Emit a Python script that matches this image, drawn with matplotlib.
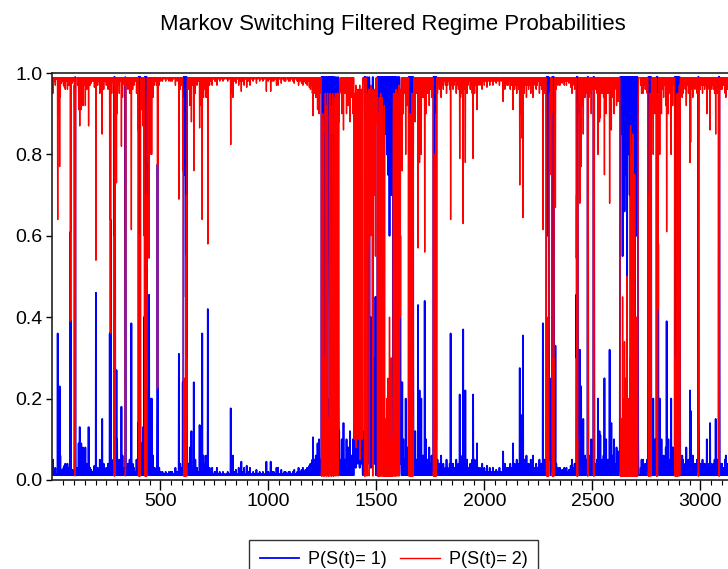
import numpy as np
import matplotlib.pyplot as plt

plt.rcParams['font.family'] = ['Liberation Sans', 'DejaVu Sans']

# filtered P(S(t)=1); P(S(t)=2) is its complement
n_obs = 3128
calm_p1 = 0.012

# single observations where P(S(t)=1) leaves the calm level
spikes = [
    (3, 0.05), (8, 0.02), (14, 0.03), (19, 0.015), (25, 0.36), (27, 0.1), (30, 0.02), (34, 0.23),
    (37, 0.06), (42, 0.025), (47, 0.02), (52, 0.03), (56, 0.035), (60, 0.04), (65, 0.02), (70, 0.04),
    (73, 0.03), (78, 0.03), (84, 0.61), (86, 0.39), (93, 0.025), (98, 0.02),
    (117, 0.03), (122, 0.09), (127, 0.13), (131, 0.05), (134, 0.09), (138, 0.04), (142, 0.08),
    (145, 0.025), (147, 0.03), (153, 0.08), (157, 0.02), (160, 0.04), (164, 0.03), (168, 0.13),
    (175, 0.03), (180, 0.025), (185, 0.02), (190, 0.02), (195, 0.035), (202, 0.46), (205, 0.03),
    (210, 0.03), (215, 0.02), (220, 0.05), (226, 0.03), (231, 0.15), (234, 0.03), (238, 0.04),
    (244, 0.02), (250, 0.03), (254, 0.025), (258, 0.04), (262, 0.03), (266, 0.36), (270, 0.64),
    (275, 0.05), (280, 0.02), (284, 0.03),
    (297, 0.27), (300, 0.1), (305, 0.03), (310, 0.05), (315, 0.02), (320, 0.18), (325, 0.06),
    (330, 0.025), (334, 0.03), (346, 0.03), (350, 0.04), (354, 0.02), (358, 0.05), (362, 0.03),
    (366, 0.385), (372, 0.04), (378, 0.03), (384, 0.02), (390, 0.05), (394, 0.03), (397, 0.14),
    (414, 0.09), (417, 0.03), (420, 0.13), (425, 0.4),
    (443, 0.22), (448, 0.455), (452, 0.2), (456, 0.05), (460, 0.2), (463, 0.03), (466, 0.06),
    (472, 0.03), (477, 0.02), (482, 0.03), (487, 0.775), (489, 0.225), (495, 0.03), (502, 0.02),
    (510, 0.02), (517, 0.015), (525, 0.02), (533, 0.015), (540, 0.02), (548, 0.02), (555, 0.02),
    (562, 0.015), (570, 0.03), (578, 0.02), (586, 0.31), (592, 0.04), (597, 0.03),
    (630, 0.04), (634, 0.02), (637, 0.08), (641, 0.03), (644, 0.12), (650, 0.03), (655, 0.24),
    (658, 0.03), (662, 0.05), (666, 0.02), (670, 0.03), (676, 0.02), (682, 0.135), (686, 0.04),
    (690, 0.08), (694, 0.36), (697, 0.03), (700, 0.06), (703, 0.02), (706, 0.04), (712, 0.06),
    (716, 0.03), (720, 0.42), (724, 0.02), (728, 0.03), (734, 0.02), (740, 0.03), (746, 0.015),
    (752, 0.02), (757, 0.02), (762, 0.03), (768, 0.015),
    (775, 0.02), (782, 0.015), (790, 0.02), (797, 0.015), (805, 0.015), (812, 0.02), (819, 0.015),
    (826, 0.176), (829, 0.05), (832, 0.02), (836, 0.06), (843, 0.02), (850, 0.025), (856, 0.015),
    (863, 0.03), (869, 0.02), (875, 0.045), (881, 0.02), (888, 0.03), (894, 0.015), (900, 0.035),
    (907, 0.02), (915, 0.03), (922, 0.015), (930, 0.02), (937, 0.015), (945, 0.025), (952, 0.015),
    (960, 0.02), (968, 0.015), (975, 0.02), (983, 0.015), (991, 0.045), (1000, 0.02), (1006, 0.015),
    (1011, 0.045), (1018, 0.02), (1025, 0.02), (1032, 0.015), (1038, 0.03), (1045, 0.03),
    (1052, 0.015), (1060, 0.025), (1067, 0.015), (1074, 0.02), (1080, 0.02), (1088, 0.015),
    (1094, 0.02), (1100, 0.02), (1107, 0.015), (1114, 0.02), (1120, 0.025), (1127, 0.015),
    (1134, 0.02), (1140, 0.03), (1147, 0.02), (1154, 0.025), (1160, 0.03), (1166, 0.02), (1172, 0.025),
    (1180, 0.03), (1186, 0.02), (1190, 0.035), (1195, 0.04), (1200, 0.03), (1204, 0.05), (1207, 0.105),
    (1210, 0.03), (1212, 0.05), (1216, 0.03), (1220, 0.06), (1224, 0.04), (1228, 0.09), (1231, 0.03),
    (1235, 0.1), (1238, 0.04), (1240, 0.05), (1243, 0.03),
    (1338, 0.05), (1340, 0.1), (1344, 0.03), (1348, 0.14), (1351, 0.04), (1355, 0.05), (1358, 0.03),
    (1362, 0.1), (1366, 0.04), (1370, 0.08), (1374, 0.03), (1378, 0.12), (1382, 0.04), (1385, 0.06),
    (1389, 0.03), (1392, 0.1), (1500, 0.05), (1502, 0.12),
    (1620, 0.24), (1623, 0.05), (1625, 0.1), (1628, 0.03), (1630, 0.05), (1633, 0.04), (1636, 0.2),
    (1639, 0.03), (1642, 0.08), (1645, 0.04), (1648, 0.06),
    (1676, 0.04), (1680, 0.12), (1683, 0.03), (1686, 0.05), (1690, 0.04), (1693, 0.43), (1697, 0.05),
    (1700, 0.22), (1703, 0.03), (1706, 0.05), (1708, 0.2), (1712, 0.06), (1715, 0.03), (1718, 0.06),
    (1721, 0.04), (1724, 0.44), (1727, 0.03), (1730, 0.1), (1734, 0.04), (1738, 0.05), (1741, 0.03),
    (1745, 0.08), (1748, 0.03), (1752, 0.04), (1756, 0.06), (1760, 0.03),
    (1783, 0.05), (1787, 0.03), (1792, 0.04), (1796, 0.02), (1800, 0.06), (1805, 0.03), (1810, 0.04),
    (1815, 0.02), (1820, 0.03), (1825, 0.05), (1830, 0.03), (1835, 0.02), (1840, 0.04), (1844, 0.36),
    (1848, 0.03), (1852, 0.02), (1855, 0.04), (1860, 0.03), (1865, 0.02), (1870, 0.05), (1875, 0.03),
    (1880, 0.04), (1886, 0.21), (1890, 0.06), (1895, 0.03), (1898, 0.05), (1902, 0.37), (1906, 0.04),
    (1912, 0.22), (1916, 0.03), (1920, 0.05), (1925, 0.03), (1930, 0.02), (1935, 0.04), (1940, 0.03),
    (1944, 0.05), (1948, 0.21), (1952, 0.03), (1955, 0.05), (1960, 0.03), (1966, 0.09), (1970, 0.02),
    (1975, 0.03), (1980, 0.02), (1985, 0.03), (1990, 0.04), (1995, 0.02), (2000, 0.03), (2006, 0.02),
    (2012, 0.035), (2018, 0.02), (2025, 0.03), (2032, 0.02), (2040, 0.03), (2047, 0.02), (2055, 0.025),
    (2062, 0.02), (2070, 0.03), (2078, 0.02), (2087, 0.07), (2091, 0.03), (2095, 0.04), (2100, 0.02),
    (2105, 0.03), (2110, 0.03), (2115, 0.02), (2120, 0.04), (2126, 0.03), (2133, 0.09), (2137, 0.03),
    (2140, 0.04), (2145, 0.03), (2150, 0.05), (2155, 0.03), (2160, 0.04), (2164, 0.275), (2167, 0.04),
    (2170, 0.1), (2175, 0.16), (2179, 0.355), (2182, 0.04), (2185, 0.05), (2190, 0.03), (2195, 0.06),
    (2200, 0.03), (2205, 0.04), (2210, 0.03), (2215, 0.05), (2220, 0.03), (2225, 0.06), (2230, 0.03),
    (2235, 0.02), (2240, 0.04), (2245, 0.03), (2250, 0.02), (2255, 0.05), (2260, 0.03), (2265, 0.04),
    (2271, 0.385), (2274, 0.04), (2278, 0.05), (2282, 0.03), (2309, 0.04), (2312, 0.1),
    (2329, 0.33), (2333, 0.04), (2337, 0.03), (2342, 0.02), (2346, 0.03), (2350, 0.03), (2355, 0.02),
    (2360, 0.025), (2365, 0.02), (2370, 0.03), (2375, 0.02), (2380, 0.03), (2386, 0.02), (2392, 0.025),
    (2397, 0.02), (2400, 0.035), (2403, 0.02), (2406, 0.05), (2410, 0.03), (2414, 0.02), (2418, 0.04),
    (2422, 0.03), (2438, 0.05), (2442, 0.32), (2445, 0.04), (2448, 0.23), (2452, 0.08), (2455, 0.03),
    (2458, 0.15), (2462, 0.04), (2466, 0.06), (2470, 0.03), (2473, 0.05),
    (2484, 0.06), (2488, 0.03), (2492, 0.05), (2495, 0.1), (2499, 0.04), (2502, 0.03),
    (2514, 0.04), (2518, 0.03), (2522, 0.05), (2526, 0.2), (2530, 0.04), (2533, 0.12), (2537, 0.11),
    (2541, 0.03), (2545, 0.05), (2549, 0.03), (2552, 0.06), (2556, 0.25), (2560, 0.04), (2564, 0.1),
    (2568, 0.03), (2572, 0.05), (2576, 0.03), (2580, 0.32), (2584, 0.04), (2588, 0.14), (2592, 0.03),
    (2596, 0.06), (2600, 0.1), (2604, 0.04), (2608, 0.03), (2612, 0.08), (2616, 0.04), (2620, 0.07),
    (2624, 0.03),
    (2724, 0.03), (2728, 0.05), (2732, 0.02), (2735, 0.05), (2740, 0.03), (2745, 0.04), (2750, 0.03),
    (2754, 0.05), (2778, 0.05), (2782, 0.2), (2786, 0.04), (2790, 0.1),
    (2812, 0.2), (2816, 0.05), (2820, 0.1), (2825, 0.04), (2830, 0.06), (2835, 0.03), (2840, 0.08),
    (2844, 0.39), (2848, 0.05), (2852, 0.1), (2856, 0.03), (2860, 0.05), (2865, 0.2), (2868, 0.04),
    (2872, 0.08), (2876, 0.03),
    (2912, 0.04), (2916, 0.06), (2920, 0.05), (2925, 0.03), (2930, 0.04), (2935, 0.08), (2940, 0.03),
    (2945, 0.05), (2952, 0.22), (2955, 0.17), (2960, 0.04), (2965, 0.06), (2970, 0.03), (2975, 0.04),
    (2980, 0.03), (2985, 0.05),
    (3000, 0.04), (3005, 0.03), (3010, 0.05), (3015, 0.03), (3020, 0.04), (3025, 0.03), (3030, 0.1),
    (3035, 0.04), (3040, 0.03), (3045, 0.14), (3050, 0.04), (3055, 0.03), (3060, 0.04), (3066, 0.05),
    (3071, 0.15), (3075, 0.04), (3078, 0.05),
    (3095, 0.04), (3100, 0.04), (3105, 0.03), (3110, 0.03), (3115, 0.05), (3118, 0.06), (3122, 0.03),
    (3126, 0.04),
]

# stretches where the filter jumps into regime 1: first observation, then consecutive values
run_start = [103, 287, 338, 399, 428, 604, 1246, 1397, 1445, 1455, 1505, 1516, 1650, 1764,
             2287, 2314, 2426, 2478, 2505, 2628, 2758, 2797, 2882, 2990, 3085]
run_p1 = [
    [0.97, 0.9, 0.3, 0.99, 0.84, 0.1],
    [0.99, 0.6, 0.99, 0.98, 0.36],
    [0.99, 0.98, 0.4],
    [0.99, 0.98, 0.99, 0.9, 0.4, 0.99, 0.95, 0.99, 0.99, 0.2, 0.05],
    [0.99, 0.97, 0.99, 0.6, 0.98, 0.99, 0.8, 0.99, 0.3, 0.99, 0.1],
    [0.24, 0.06, 0.25, 0.55, 0.99, 0.98, 0.99, 0.75, 0.99, 0.99, 0.9, 0.99, 0.97, 0.99, 0.45,
     0.99, 0.98, 0.3, 0.99, 0.24, 0.08],
    [0.99, 0.98, 0.99, 0.97, 0.99, 0.15, 0.1, 0.18, 0.12,
     0.85, 0.99, 0.95, 0.99, 0.7, 0.99, 0.98, 0.9, 0.1, 0.05, 0.15, 0.08,
     0.99, 0.97, 0.99, 0.99, 0.3, 0.1, 0.2, 0.05, 0.12,
     0.99, 0.98, 0.92, 0.99, 0.99, 0.85, 0.99, 0.97, 0.6, 0.2, 0.05, 0.1, 0.4,
     0.99, 0.99, 0.96, 0.99, 0.98, 0.99, 0.2, 0.08, 0.15, 0.05, 0.1,
     0.99, 0.97, 0.99, 0.75, 0.99, 0.98, 0.3, 0.12, 0.06, 0.18, 0.1, 0.05,
     0.99, 0.99, 0.95, 0.6, 0.2, 0.1, 0.05, 0.15, 0.08, 0.12, 0.05,
     0.99, 0.98, 0.5, 0.18, 0.07, 0.12, 0.05, 0.04],
    [0.85, 0.9, 0.1, 0.05, 0.12, 0.8, 0.75, 0.08, 0.03, 0.15,
     0.92, 0.1, 0.14, 0.05, 0.78, 0.85, 0.06, 0.1, 0.04, 0.9,
     0.15, 0.07, 0.1, 0.82, 0.2, 0.06, 0.03, 0.95, 0.88, 0.12,
     0.05, 0.08, 0.72, 0.15, 0.04, 0.1, 0.9, 0.08, 0.12, 0.05],
    [0.99, 0.98, 0.99, 0.6, 0.99, 0.2, 0.05],
    [0.2, 0.05, 0.99, 0.98, 0.3, 0.1, 0.05, 0.25, 0.42, 0.08,
     0.15, 0.04, 0.99, 0.97, 0.27, 0.06, 0.1, 0.22, 0.05, 0.4,
     0.03, 0.2, 0.12, 0.05, 0.26, 0.07, 0.1, 0.04, 0.99, 0.99,
     0.25, 0.05, 0.22, 0.08, 0.04, 0.3, 0.1, 0.06, 0.24, 0.04,
     0.08, 0.45, 0.05, 0.03],
    [0.99, 0.98, 0.99, 0.3, 0.1, 0.99, 0.97, 0.99, 0.2, 0.06, 0.99],
    [0.99, 0.98, 0.99, 0.2, 0.05, 0.1, 0.99, 0.97, 0.99, 0.95,
     0.3, 0.06, 0.1, 0.99, 0.98, 0.99, 0.6, 0.99, 0.96, 0.99,
     0.2, 0.08, 0.99, 0.98, 0.99,
     0.99, 0.95, 0.99, 0.85, 0.99, 0.92, 0.97, 0.99, 0.8, 0.99,
     0.98, 0.9, 0.99, 0.75, 0.99, 0.97, 0.99, 0.88, 0.99, 0.96,
     0.6, 0.99, 0.98, 0.99, 0.85, 0.99, 0.93, 0.99, 0.7, 0.99,
     0.97, 0.99, 0.9, 0.99, 0.95, 0.99, 0.98,
     0.3, 0.1, 0.05, 0.99, 0.97, 0.99, 0.9, 0.15, 0.05, 0.99,
     0.98, 0.99, 0.3, 0.08, 0.04, 0.1, 0.99, 0.97, 0.95, 0.25,
     0.1, 0.05, 0.99, 0.99, 0.4, 0.12, 0.06, 0.03, 0.99, 0.98,
     0.2, 0.05, 0.04, 0.6, 0.15, 0.1, 0.24, 0.05],
    [0.99, 0.98, 0.49, 0.99, 0.99, 0.3, 0.1, 0.99, 0.97, 0.99, 0.6, 0.99,
     0.99, 0.2, 0.05, 0.99, 0.98, 0.99, 0.99, 0.85, 0.99, 0.3, 0.1, 0.05],
    [0.99, 0.98, 0.99, 0.97, 0.99, 0.6, 0.99, 0.99, 0.2, 0.99, 0.98, 0.99, 0.99, 0.1, 0.99, 0.05],
    [0.97, 0.99, 0.99, 0.6, 0.99, 0.98, 0.99, 0.8, 0.99, 0.99, 0.95, 0.99, 0.4, 0.25,
     0.08, 0.05, 0.25, 0.06, 0.04, 0.03],
    [0.99, 0.98, 0.99, 0.99, 0.97, 0.99, 0.7, 0.99, 0.99, 0.2, 0.06],
    [0.455, 0.3, 0.99, 0.98, 0.99, 0.9, 0.99, 0.4, 0.1],
    [0.99, 0.98, 0.99, 0.24],
    [0.99, 0.99, 0.98, 0.99, 0.3],
    [0.6, 0.99, 0.98, 0.99, 0.95, 0.99, 0.97, 0.85, 0.99, 0.98,
     0.99, 0.9, 0.55, 0.99, 0.97, 0.99, 0.92, 0.99, 0.8, 0.99,
     0.98, 0.66, 0.99, 0.97, 0.99, 0.88, 0.99, 0.75, 0.99, 0.98,
     0.99, 0.93, 0.99, 0.5, 0.98, 0.99, 0.9, 0.99, 0.97, 0.8,
     0.99, 0.99, 0.94, 0.99, 0.98, 0.7, 0.99, 0.96, 0.99, 0.13,
     0.99, 0.98, 0.61, 0.99, 0.97, 0.2, 0.99, 0.98, 0.99, 0.9,
     0.99, 0.15, 0.99, 0.97, 0.99, 0.85, 0.99, 0.98, 0.25, 0.99,
     0.98, 0.99, 0.92, 0.99, 0.97, 0.99, 0.6, 0.99, 0.98, 0.99,
     0.9, 0.99, 0.97, 0.4, 0.1, 0.05],
    [0.42, 0.99, 0.98, 0.99, 0.3, 0.99, 0.99, 0.1, 0.05, 0.42, 0.06, 0.99, 0.98, 0.5, 0.99, 0.15],
    [0.99, 0.98, 0.99, 0.58, 0.99, 0.99, 0.2, 0.05, 0.58, 0.1, 0.2],
    [0.99, 0.98, 0.99, 0.7, 0.99, 0.99, 0.88, 0.99, 0.2, 0.05, 0.1, 0.99, 0.97, 0.99, 0.5,
     0.99, 0.99, 0.3, 0.1, 0.05, 0.08, 0.03, 0.99, 0.98, 0.2],
    [0.99, 0.98, 0.99, 0.15, 0.06],
    [0.99, 0.99, 0.98, 0.99, 0.3],
]

obs = np.arange(1, n_obs + 1)
p1 = np.full(n_obs, calm_p1)
for t, v in spikes:
    p1[t - 1] = v
for t0, vals in zip(run_start, run_p1):
    p1[t0 - 1:t0 - 1 + len(vals)] = vals
p2 = 1 - p1

W, H = 728, 569
fig = plt.figure(figsize=(W / 100, H / 100), dpi=100)
ax = fig.add_axes([52.3 / W, 1 - 480 / H, 1 - 52.3 / W, (480 - 73) / H])

ax.plot(obs, p1, color='#0000FF', lw=1.3, label='P(S(t)= 1)')
ax.plot(obs, p2, color='#FF0000', lw=1.0, label='P(S(t)= 2)')

ax.set_xlim(0, n_obs)
ax.set_ylim(0, 1)
ax.set_xticks([500, 1000, 1500, 2000, 2500, 3000])
ax.set_xticks(np.arange(50, n_obs, 50), minor=True)
ax.set_yticks([0.0, 0.2, 0.4, 0.6, 0.8, 1.0])
ax.set_yticklabels(['0.0', '0.2', '0.4', '0.6', '0.8', '1.0'])
ax.tick_params(axis='x', which='major', direction='out', length=7, width=1, labelsize=14, pad=2)
ax.tick_params(axis='x', which='minor', direction='out', length=3.5, width=0.8)
ax.tick_params(axis='y', direction='out', length=4, width=1, labelsize=14, pad=3)
ax.spines['right'].set_visible(False)
for s in ['left', 'top', 'bottom']:
    ax.spines[s].set_color('#222222')
    ax.spines[s].set_linewidth(1.2)

fig.text(392.5 / W, 1 - 24.5 / H, 'Markov Switching Filtered Regime Probabilities',
         ha='center', va='center', fontsize=16)

leg = fig.legend(loc='upper center', bbox_to_anchor=(393.5 / W, 1 - 540 / H), ncol=2,
                 fontsize=13, frameon=True, fancybox=False, edgecolor='black',
                 handlelength=2.2, handletextpad=0.5, columnspacing=0.7, borderpad=0.6,
                 borderaxespad=0)
leg.get_frame().set_linewidth(1.0)

fig.savefig('out.png', dpi=100)
